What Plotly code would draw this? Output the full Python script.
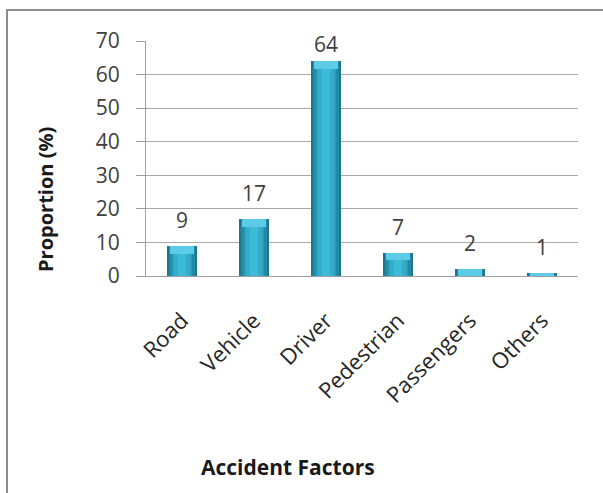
import plotly.graph_objects as go

# Accident factor shares (%)
factors = ["Road", "Vehicle", "Driver", "Pedestrian", "Passengers", "Others"]
proportion = [9, 17, 64, 7, 2, 1]
y_ticks = [0, 10, 20, 30, 40, 50, 60, 70]

W, H = 603, 493
L, R, T, B = 146, 25, 41, 217
plot_w = W - L - R
plot_h = H - T - B

FONT = "Open Sans"
TXT = "#404040"

fig = go.Figure()

# Cylinder-like shading: stacked overlay bars from dark edge to light core
shades = [
    (0.42, "#1b7690"),
    (0.36, "#2489a5"),
    (0.29, "#2d9dbb"),
    (0.21, "#35aecb"),
    (0.12, "#3dbad7"),
]
for width, color in shades:
    fig.add_trace(go.Bar(
        x=factors, y=proportion, width=width,
        marker=dict(color=color, line=dict(width=0)),
        hoverinfo="skip", showlegend=False,
    ))

# Lighter bevel at the top of each bar
bevel = [min(v, 2.3) for v in proportion]
fig.add_trace(go.Bar(
    x=factors, y=bevel, base=[v - b for v, b in zip(proportion, bevel)],
    width=0.34,
    marker=dict(color="#5ccbe6", line=dict(width=0)),
    hoverinfo="skip", showlegend=False,
))

# Value labels above the bars (the tallest one is tucked under the top edge)
for f, v in zip(factors, proportion):
    fig.add_annotation(
        x=f, y=v, text=str(v), showarrow=False,
        xanchor="center", yanchor="bottom", yshift=10 if v < 60 else 1,
        font=dict(family=FONT, size=21, color=TXT),
    )

def px_x(px):
    return (px - L) / plot_w

def px_y(py):
    return (H - B - py) / plot_h

# Axis titles
fig.add_annotation(
    x=px_x(288), y=px_y(467), xref="paper", yref="paper",
    text="<b>Accident Factors</b>", showarrow=False,
    xanchor="center", yanchor="middle",
    font=dict(family=FONT, size=21, color="#1a1a1a"),
)
fig.add_annotation(
    x=px_x(45), y=px_y(200), xref="paper", yref="paper",
    text="<b>Proportion (%)</b>", showarrow=False, textangle=-90,
    xanchor="center", yanchor="middle",
    font=dict(family=FONT, size=20, color="#1a1a1a"),
)

# Chart frame
fig.add_shape(
    type="rect", xref="paper", yref="paper",
    x0=px_x(7), x1=px_x(620), y0=px_y(520), y1=px_y(10),
    line=dict(color="#8c8c8c", width=2), fillcolor="rgba(0,0,0,0)",
    layer="below",
)

fig.update_layout(
    width=W, height=H,
    margin=dict(l=L, r=R, t=T, b=B, pad=0),
    paper_bgcolor="white", plot_bgcolor="white",
    barmode="overlay", bargap=0,
    font=dict(family=FONT, size=21, color=TXT),
    showlegend=False,
)
fig.update_xaxes(
    type="category", tickangle=-45,
    showline=True, linecolor="#a0a0a0", linewidth=1,
    showgrid=False, ticks="",
    tickfont=dict(family=FONT, size=22, color="#262626"),
    ticklabelstandoff=22,
)
fig.update_yaxes(
    range=[0, 70], tickvals=y_ticks,
    showline=True, linecolor="#a0a0a0", linewidth=1,
    showgrid=True, gridcolor="#a9a9a9", gridwidth=1,
    ticks="outside", ticklen=9, tickcolor="#a0a0a0",
    tickfont=dict(family=FONT, size=21, color=TXT),
    ticklabelstandoff=12, zeroline=False,
)

fig.write_html("out.html")
